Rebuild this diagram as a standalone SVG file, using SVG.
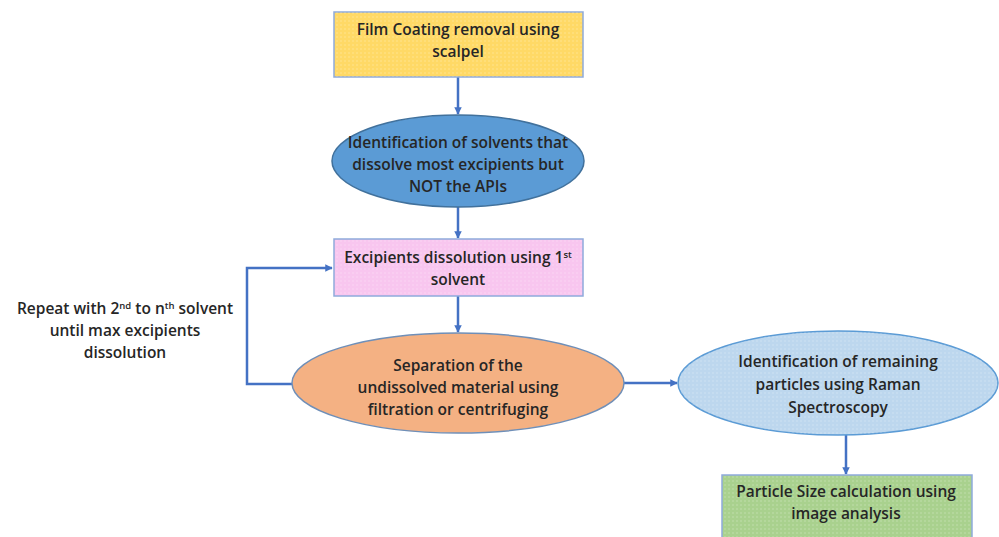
<svg xmlns="http://www.w3.org/2000/svg" width="999" height="537" viewBox="0 0 999 537">
<style>
  .t { font-family: "Open Sans", "Liberation Sans", sans-serif; font-size: 15.5px; font-weight: 600; fill: #262626; text-anchor: middle; }
  .c { fill: none; stroke: #4472c4; stroke-width: 2.5; }
  .tex { fill: url(#dots); }
</style>
<defs>
  <pattern id="dots" width="4" height="4" patternUnits="userSpaceOnUse">
    <circle cx="1" cy="1" r="0.7" fill="#ffffff" opacity="0.35"/>
  </pattern>
  <marker id="ah" viewBox="0 0 10 10" refX="9" refY="5" markerWidth="3" markerHeight="3" orient="auto">
    <path d="M0,0 L10,5 L0,10 z" fill="#4472c4"/>
  </marker>
</defs>
<rect width="999" height="537" fill="#ffffff"/>

<g id="connectors">
  <line class="c" x1="458" y1="77" x2="458" y2="114" marker-end="url(#ah)"/>
  <line class="c" x1="458" y1="207" x2="458" y2="238" marker-end="url(#ah)"/>
  <line class="c" x1="458" y1="296" x2="458" y2="332" marker-end="url(#ah)"/>
  <polyline class="c" points="292,384 247,384 247,268 332,268" marker-end="url(#ah)"/>
  <line class="c" x1="624" y1="383" x2="677" y2="383" marker-end="url(#ah)"/>
  <line class="c" x1="846" y1="435" x2="846" y2="474" marker-end="url(#ah)"/>
</g>

<g id="n1">
  <rect x="334" y="12" width="249" height="65" fill="#ffd966" stroke="#8faadc" stroke-width="1.5"/>
  <rect x="334" y="12" width="249" height="65" class="tex"/>
  <text class="t" x="458" y="35">Film Coating removal using</text>
  <text class="t" x="458" y="57">scalpel</text>
</g>

<g id="n2">
  <ellipse cx="458" cy="161" rx="126" ry="46" fill="#5b9bd5" stroke="#41719c" stroke-width="1.5"/>
  <text class="t" x="458" y="148">Identification of solvents that</text>
  <text class="t" x="458" y="170">dissolve most excipients but</text>
  <text class="t" x="458" y="192">NOT the APIs</text>
</g>

<g id="n3">
  <rect x="334" y="239" width="249" height="57" fill="#f8c6ef" stroke="#8faadc" stroke-width="1.5"/>
  <rect x="334" y="239" width="249" height="57" class="tex"/>
  <text class="t" x="458" y="263">Excipients dissolution using 1<tspan font-size="9.5" dy="-5">st</tspan></text>
  <text class="t" x="458" y="285">solvent</text>
</g>

<g id="n4">
  <ellipse cx="458" cy="383" rx="166" ry="50" fill="#f4b183" stroke="#6f8fb8" stroke-width="1.5"/>
  <text class="t" x="458" y="371">Separation of the</text>
  <text class="t" x="458" y="393">undissolved material using</text>
  <text class="t" x="458" y="415">filtration or centrifuging</text>
</g>

<g id="n5">
  <ellipse cx="838" cy="383" rx="160" ry="52" fill="#bdd7ee" stroke="#5b9bd5" stroke-width="1.5"/>
  <ellipse cx="838" cy="383" rx="160" ry="52" class="tex"/>
  <text class="t" x="838" y="367">Identification of remaining</text>
  <text class="t" x="838" y="390">particles using Raman</text>
  <text class="t" x="838" y="413">Spectroscopy</text>
</g>

<g id="n6">
  <rect x="722" y="475" width="250" height="70" fill="#a9d18e" stroke="#8faadc" stroke-width="1.5"/>
  <rect x="722" y="475" width="250" height="70" class="tex"/>
  <text class="t" x="846" y="497">Particle Size calculation using</text>
  <text class="t" x="846" y="519">image analysis</text>
</g>

<g id="label">
  <text class="t" x="125" y="314">Repeat with 2<tspan font-size="9.5" dy="-5">nd</tspan><tspan dy="5"> to n</tspan><tspan font-size="9.5" dy="-5">th</tspan><tspan dy="5"> solvent</tspan></text>
  <text class="t" x="125" y="336">until max excipients</text>
  <text class="t" x="125" y="358">dissolution</text>
</g>
</svg>
